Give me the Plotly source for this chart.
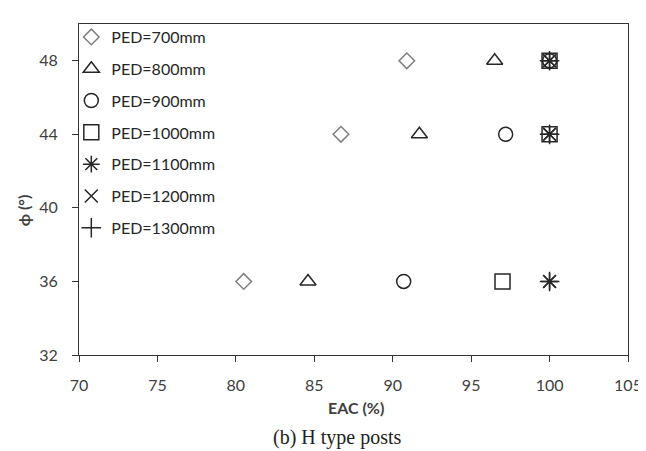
import plotly.graph_objects as go

phi = [48, 44, 36]
series_names = ["PED=700mm", "PED=800mm", "PED=900mm", "PED=1000mm",
                "PED=1100mm", "PED=1200mm", "PED=1300mm"]
eac_700 = [90.9, 86.7, 80.5]
eac_800 = [96.5, 91.7, 84.6]
eac_900 = [100, 97.2, 90.7]
eac_1000 = [100, 100, 97.0]
eac_1100 = [100, 100, 100]
eac_1200 = [100, 100, 100]
eac_1300 = [100, 100, 100]
x_ticks = [70, 75, 80, 85, 90, 95, 100, 105]
y_ticks = [32, 36, 40, 44, 48]

series_x = [eac_700, eac_800, eac_900, eac_1000, eac_1100, eac_1200, eac_1300]
symbols = ["diamond-open", "triangle-up-open", "circle-open", "square-open",
           "asterisk-open", "x-thin-open", "cross-thin-open"]
colors = ["#7f7f7f", "#262626", "#262626", "#262626", "#262626", "#262626", "#262626"]
sizes = [12, 14, 14, 15, 14, 13, 14]

fig = go.Figure()
for name, xs, sym, col, sz in zip(series_names, series_x, symbols, colors, sizes):
    fig.add_trace(go.Scatter(
        x=xs, y=phi, mode="markers", name=name, legendgroup=name,
        marker=dict(symbol=sym, size=sz, color=col,
                    line=dict(width=1.5, color=col)),
    ))

axis_font = dict(family="Lato, Open Sans, sans-serif", size=16, color="#404040")
fig.update_layout(
    width=646, height=451,
    margin=dict(l=71, r=15, t=13, b=104),
    paper_bgcolor="white", plot_bgcolor="white",
    showlegend=True,
    legend=dict(x=-0.014, y=1.012, xanchor="left", yanchor="top",
                font=dict(family="Lato, Open Sans, sans-serif", size=16, color="#262626"),
                bgcolor="rgba(0,0,0,0)", tracegroupgap=8, itemsizing="trace"),
    xaxis=dict(range=[70, 105], tickvals=x_ticks, showgrid=False, zeroline=False,
               showline=True, linecolor="#333333", linewidth=1, mirror=True,
               ticks="outside", ticklen=6, tickcolor="#333333",
               ticklabelstandoff=10, tickfont=axis_font),
    yaxis=dict(range=[32, 50], tickvals=y_ticks, showgrid=False, zeroline=False,
               showline=True, linecolor="#333333", linewidth=1, mirror=True,
               ticks="outside", ticklen=6, tickcolor="#333333",
               ticklabelstandoff=11, tickfont=axis_font),
    annotations=[
        dict(text="<b>EAC (%)</b>", xref="paper", yref="paper", x=0.504, y=-0.16,
             xanchor="center", yanchor="middle", showarrow=False,
             font=dict(family="Lato, Open Sans, sans-serif", size=16, color="#404040")),
        dict(text="<b>ϕ (°)</b>", xref="paper", yref="paper", x=-0.102, y=0.437,
             xanchor="center", yanchor="middle", showarrow=False, textangle=-90,
             font=dict(family="Lato, Open Sans, sans-serif", size=16, color="#404040")),
        dict(text="(b) H type posts", xref="paper", yref="paper", x=0.471, y=-0.248,
             xanchor="center", yanchor="middle", showarrow=False,
             font=dict(family="Liberation Serif, serif", size=20, color="#222222")),
    ],
)

fig.write_html("out.html")
